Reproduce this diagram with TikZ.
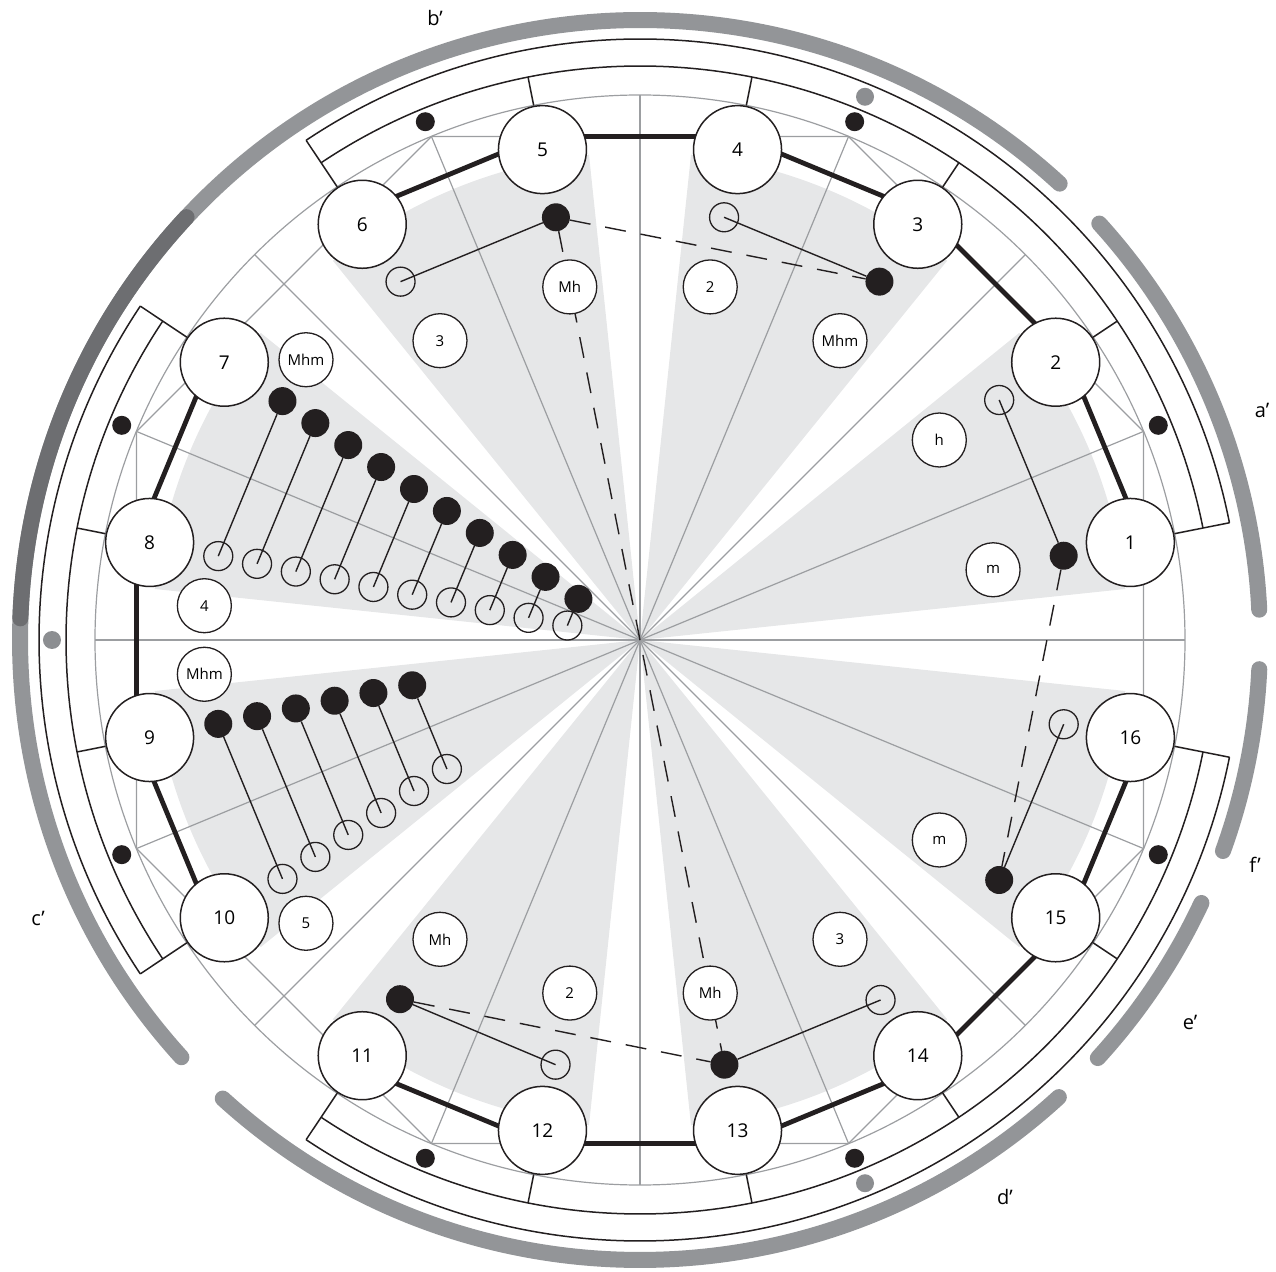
\documentclass[tikz,border=0pt]{standalone}
\usepackage{fontspec}
\setmainfont{Open Sans}
\definecolor{ink}{HTML}{231F20}
\definecolor{wedge}{HTML}{E6E7E8}
\definecolor{guide}{HTML}{9C9EA1}
\definecolor{bandgray}{HTML}{939598}
\definecolor{banddark}{HTML}{6D6E71}
\definecolor{bead}{HTML}{8C8E91}
\usetikzlibrary{calc}

\tikzset{
  site/.style={circle, draw=ink, line width=1.5pt, fill=white, minimum size=88pt,
               inner sep=0pt, font=\fontsize{19}{19}\selectfont},
  tag/.style={circle, draw=ink, line width=1.3pt, fill=white, minimum size=54pt,
              inner sep=0pt, font=\fontsize{15}{15}\selectfont},
  full/.style={circle, fill=ink, minimum size=28pt, inner sep=0pt},
  hollow/.style={circle, draw=ink, line width=1.3pt, minimum size=29pt, inner sep=0pt},
  guideline/.style={draw=guide, line width=1.2pt},
  bond/.style={draw=ink, line width=4.8pt},
  link/.style={draw=ink, line width=1.4pt},
  dashlink/.style={draw=ink, line width=1.4pt, dash pattern=on 21pt off 15pt},
  band/.style={draw=bandgray, line width=16pt, line cap=round},
  ring/.style={draw=ink, line width=1.5pt},
  letter/.style={font=\fontsize{20}{20}\selectfont}
}

\begin{document}
\begin{tikzpicture}[x=1pt, y=1pt]
\useasboundingbox (-640,-631) rectangle (636,640);

% shaded sectors
\foreach \k in {0,...,7}
  \fill[wedge] (0,0) -- ({22.5+45*\k-16.5}:488)
    arc[start angle={22.5+45*\k-16.5}, end angle={22.5+45*\k+16.5}, radius=488] -- cycle;

% guide circle, octagon and spokes
\draw[guideline] (0,0) circle (545);
\draw[guideline] (22.5:545) \foreach \k in {1,...,7} { -- ({22.5+45*\k}:545) } -- cycle;
\foreach \k in {0,...,15}
  \draw[guideline] (0,0) -- ({22.5*\k}:545);

% boxes
\foreach \a/\b in {11.25/123.75, 146.25/213.75, 236.25/348.75} {
  \draw[ring] (\a:601) arc[start angle=\a, end angle=\b, radius=601];
  \draw[ring] (\a:574) arc[start angle=\a, end angle=\b, radius=574];
  \draw[ring] (\a:545) -- (\a:601);
  \draw[ring] (\b:545) -- (\b:601);
}
\foreach \i in {2,3,4,5,8,9,12,13,14,15}
  \draw[ring] ({22.5*\i-11.25}:545) -- ({22.5*\i-11.25}:574);
\foreach \k in {0,...,7}
  \fill[ink] ({22.5+45*\k}:561) circle (9.5);
\foreach \t in {67.5,180,292.5}
  \fill[bead] (\t:588) circle (9);

% outer band
\draw[band] (2.8:620) arc[start angle=2.8, end angle=42.2, radius=620];
\draw[band] (47.4:620) arc[start angle=47.4, end angle=222.3, radius=620];
\draw[band, draw=banddark] (137:620) arc[start angle=137, end angle=178, radius=620];
\draw[band] (227.7:620) arc[start angle=227.7, end angle=312.5, radius=620];
\draw[band] (317.6:620) arc[start angle=317.6, end angle=334.9, radius=620];
\draw[band] (340.1:620) arc[start angle=340.1, end angle=357.3, radius=620];

% bonds and sites
\foreach \i/\j in {1/2,2/3,3/4,4/5,5/6,7/8,8/9,9/10,11/12,12/13,13/14,14/15,15/16}
  \draw[bond] ({22.5*\i-11.25}:513) -- ({22.5*\j-11.25}:513);
\foreach \i in {1,...,16}
  \node[site] (n\i) at ({22.5*\i-11.25}:500) {\i};

% beads
\node[full] (d1) at (11.25:432) {};
\node[hollow] (o2) at (33.75:432) {};
\node[full] (d3) at (56.25:431) {};
\node[hollow] (o4) at (78.75:431) {};
\node[full] (d5) at (101.25:431) {};
\node[hollow] (o6) at (123.75:431) {};
\node[full] (d11) at (236.25:432) {};
\node[hollow] (o12) at (258.75:433) {};
\node[full] (d13) at (281.25:433) {};
\node[hollow] (o14) at (303.75:433) {};
\node[full] (d15) at (326.25:432) {};
\node[hollow] (o16) at (348.75:432) {};
\foreach \i in {1,...,10} {
  \pgfmathsetmacro\rr{430-39.55*(\i-1)}
  \node[full] (p\i) at (146.25:\rr) {};
  \node[hollow] (q\i) at (168.75:\rr) {};
}
\foreach \i in {1,...,6} {
  \pgfmathsetmacro\rr{430-39.55*(\i-1)}
  \node[full] (u\i) at (191.25:\rr) {};
  \node[hollow] (v\i) at (213.75:\rr) {};
}

% links
\draw[link] (o2.center) -- (d1);
\draw[link] (o4.center) -- (d3);
\draw[link] (o6.center) -- (d5);
\draw[link] (o12.center) -- (d11);
\draw[link] (o14.center) -- (d13);
\draw[link] (o16.center) -- (d15);
\foreach \i in {1,...,10}
  \draw[link] (q\i.center) -- (p\i);
\foreach \i in {1,...,6}
  \draw[link] (v\i.center) -- (u\i);
\draw[dashlink] (d5) -- (d3);
\draw[dashlink] (d5) -- (d13);
\draw[dashlink] (d11) -- (d13);
\draw[dashlink] (d1) -- (d15);

% tags
\node[tag] (t1) at (11.25:360) {m};
\node[tag] (t2) at (33.75:360) {h};
\node[tag] (t3) at (56.25:360) {Mhm};
\node[tag] (t4) at (78.75:360) {2};
\node[tag] (t5) at (101.25:360) {Mh};
\node[tag] (t6) at (123.75:360) {3};
\node[tag] (t7) at (140:436) {Mhm};
\node[tag] (t8) at (175.5:437) {4};
\node[tag] (t9) at (184.5:437) {Mhm};
\node[tag] (t10) at (220.3:438) {5};
\node[tag] (t11) at (236.25:360) {Mh};
\node[tag] (t12) at (258.75:360) {2};
\node[tag] (t13) at (281.25:360) {Mh};
\node[tag] (t14) at (303.75:360) {3};
\node[tag] (t15) at (326.25:360) {m};

% band letters
\node[letter] (la) at (622,230) {a’};
\node[letter] (lb) at (-205,622) {b’};
\node[letter] (lc) at (-602,-278) {c’};
\node[letter] (ld) at (365,-557) {d’};
\node[letter] (le) at (550,-382) {e’};
\node[letter] (lf) at (615,-225) {f’};
\end{tikzpicture}
\end{document}
